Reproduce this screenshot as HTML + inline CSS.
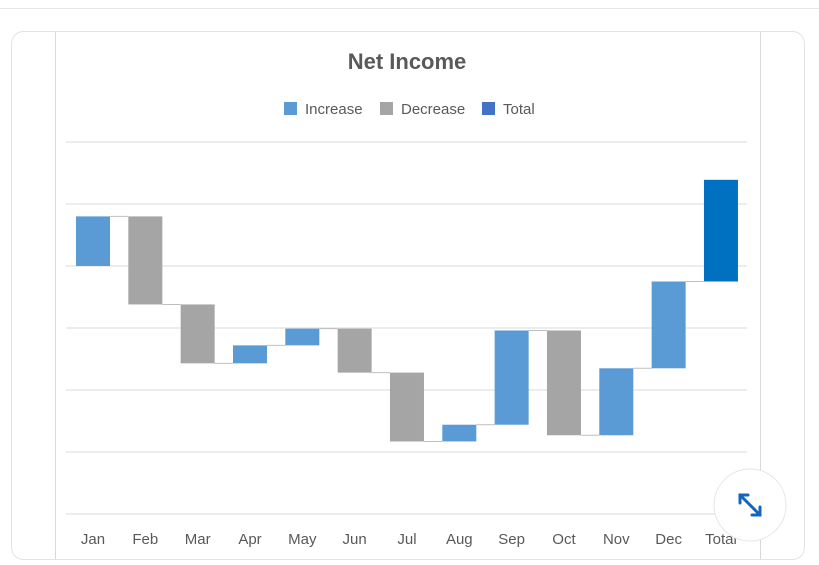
<!DOCTYPE html>
<html><head><meta charset="utf-8"><style>
body{margin:0;background:#fff;font-family:"Liberation Sans",sans-serif;}
</style></head><body>
<svg width="819" height="565" xmlns="http://www.w3.org/2000/svg" style="display:block">
<line x1="0" y1="8.5" x2="819" y2="8.5" stroke="#e6e6e6"/>
<rect x="11.5" y="31.5" width="793" height="528" rx="12" fill="#fff" stroke="#e3e3e3"/>
<line x1="55.5" y1="32" x2="55.5" y2="559" stroke="#d9d9d9"/>
<line x1="760.5" y1="32" x2="760.5" y2="559" stroke="#d9d9d9"/>
<text x="407" y="69" text-anchor="middle" font-size="22" font-weight="bold" fill="#595959">Net Income</text>
<g font-size="15" fill="#595959">
<rect x="284" y="102" width="13" height="13" fill="#5b9bd5"/><text x="305" y="114">Increase</text>
<rect x="380" y="102" width="13" height="13" fill="#a5a5a5"/><text x="401" y="114">Decrease</text>
<rect x="482" y="102" width="13" height="13" fill="#4472c4"/><text x="503" y="114">Total</text>
</g>
<g id="grid"></g><g id="conn"></g><g id="bars"></g><g id="xl"></g>
<g>
<circle cx="750" cy="505" r="36" fill="#fff" stroke="#e6e6e6"/>
<g stroke="#1565c0" stroke-width="3" fill="none" stroke-linecap="round">
<line x1="740" y1="495" x2="760" y2="515"/>
<polyline points="740,503 740,495 748,495"/>
<polyline points="752,515 760,515 760,507"/>
</g></g>
</svg>
<script>
const categories=["Jan","Feb","Mar","Apr","May","Jun","Jul","Aug","Sep","Oct","Nov","Dec","Total"];
const startValue=4.0;
const deltas=[0.8,-1.42,-0.95,0.29,0.27,-0.71,-1.11,0.27,1.52,-1.69,1.08,1.40];
const totalValue=5.39;
const gridTicks=[0,1,2,3,4,5,6];
const NS="http://www.w3.org/2000/svg";
const y=v=>514-v*62;
const x=i=>93+i*52.33;
const bw=34;
function mk(t,a,p){const e=document.createElementNS(NS,t);for(const k in a)e.setAttribute(k,a[k]);p.appendChild(e);return e;}
const G=document.getElementById('grid'),C=document.getElementById('conn'),B=document.getElementById('bars'),X=document.getElementById('xl');
gridTicks.forEach(t=>{const l=mk('line',{x1:66,x2:747,y1:y(t),y2:y(t),stroke:'#d9d9d9'},G);

});
let cur=startValue;
deltas.forEach((d,i)=>{const a=cur,b=cur+d;
const r=mk('rect',{x:x(i)-bw/2,y:y(Math.max(a,b)),width:bw,height:Math.abs(y(a)-y(b)),fill:d>=0?'#5b9bd5':'#a5a5a5'},B);


const l=mk('line',{x1:x(i)+bw/2,x2:x(i+1)-bw/2,y1:y(b),y2:y(b),stroke:'#bfbfbf'},C);


cur=b;});
const ti=deltas.length;
const tr=mk('rect',{x:x(ti)-bw/2,y:y(Math.max(cur,totalValue)),width:bw,height:Math.abs(y(cur)-y(totalValue)),fill:'#0070c0'},B);


categories.forEach((c,i)=>{const t=mk('text',{x:x(i),y:544,'text-anchor':'middle','font-size':15,fill:'#595959'},X);t.textContent=c;

});
</script>
</body></html>
